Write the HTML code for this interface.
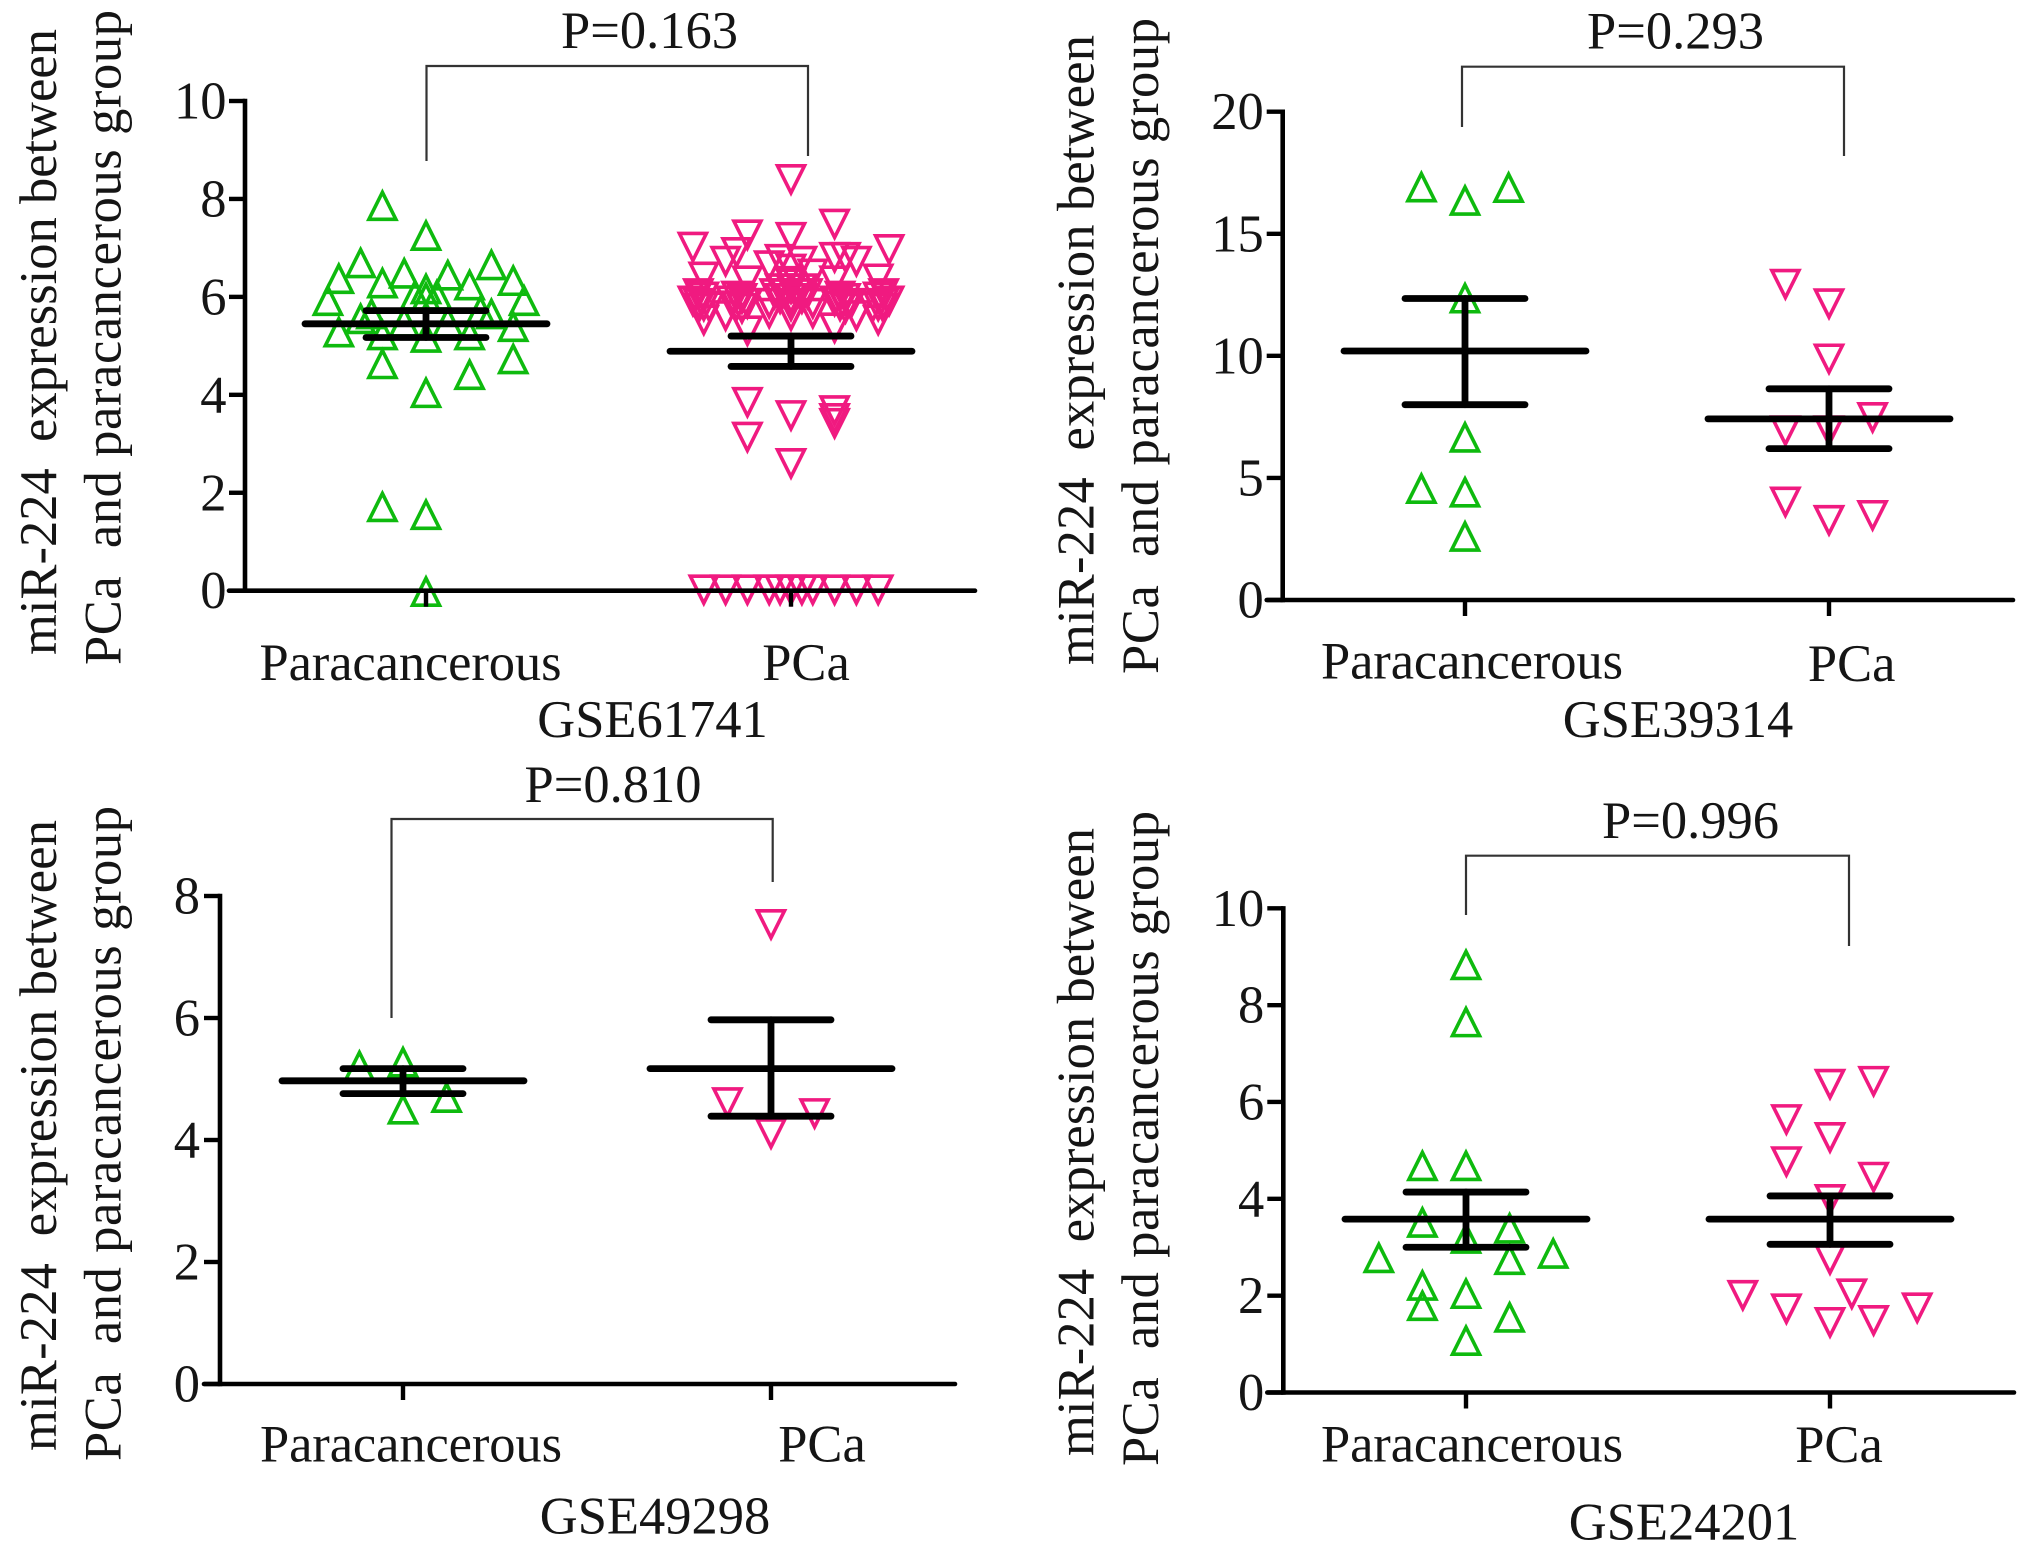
<!DOCTYPE html>
<html lang="en">
<head>
<meta charset="utf-8">
<title>miR-224 expression between PCa and paracancerous group</title>
<style>
html,body{margin:0;padding:0;background:#fff;width:2031px;height:1548px;overflow:hidden}
svg{display:block}
text{font-family:"Liberation Serif",serif;font-size:52.5px;fill:#151515;white-space:pre}
</style>
</head>
<body>
<svg id="figure" xmlns="http://www.w3.org/2000/svg" width="2031" height="1548" viewBox="0 0 2031 1548">
  <rect x="0" y="0" width="2031" height="1548" fill="#fff"/>

  <g id="panelA">
    <text transform="translate(56,655) rotate(-90)" textLength="626">miR-224  expression between</text>
    <text transform="translate(120.5,665) rotate(-90)" textLength="655">PCa  and paracancerous group</text>
    <path d="M426.5 161V66H808V156" fill="none" stroke="#333" stroke-width="2.2"/>
    <text x="649.5" y="48" text-anchor="middle">P=0.163</text>
    <text x="259.5" y="680" textLength="302">Paracancerous</text>
    <text x="806" y="680" text-anchor="middle">PCa</text>
    <text x="652.5" y="737" text-anchor="middle">GSE61741</text>
  </g>

  <g id="panelB">
    <text transform="translate(1093.5,665) rotate(-90)" textLength="630">miR-224  expression between</text>
    <text transform="translate(1158,674) rotate(-90)" textLength="656">PCa  and paracancerous group</text>
    <path d="M1462 127V66.7H1844V156" fill="none" stroke="#333" stroke-width="2.2"/>
    <text x="1675.5" y="48.5" text-anchor="middle">P=0.293</text>
    <text x="1321" y="678.5" textLength="302">Paracancerous</text>
    <text x="1851.7" y="681" text-anchor="middle">PCa</text>
    <text x="1678" y="737" text-anchor="middle">GSE39314</text>
  </g>

  <g id="panelC">
    <text transform="translate(56,1451) rotate(-90)" textLength="631">miR-224  expression between</text>
    <text transform="translate(120.5,1461) rotate(-90)" textLength="655">PCa  and paracancerous group</text>
    <path d="M391.5 1018V819H772.7V882" fill="none" stroke="#333" stroke-width="2.2"/>
    <text x="613" y="802" text-anchor="middle">P=0.810</text>
    <text x="260" y="1461.3" textLength="302">Paracancerous</text>
    <text x="822" y="1461.3" text-anchor="middle">PCa</text>
    <text x="655" y="1533.5" text-anchor="middle">GSE49298</text>
  </g>

  <g id="panelD">
    <text transform="translate(1093.5,1456) rotate(-90)" textLength="628">miR-224  expression between</text>
    <text transform="translate(1158,1466) rotate(-90)" textLength="655">PCa  and paracancerous group</text>
    <path d="M1466 915V855.7H1849V946" fill="none" stroke="#333" stroke-width="2.2"/>
    <text x="1690.5" y="838" text-anchor="middle">P=0.996</text>
    <text x="1321" y="1461.3" textLength="302">Paracancerous</text>
    <text x="1839" y="1462" text-anchor="middle">PCa</text>
    <text x="1684" y="1539.7" text-anchor="middle">GSE24201</text>
  </g>
</svg>
<script>
const categories = ['Paracancerous', 'PCa'];

// GSE61741
const aTicks = [0, 2, 4, 6, 8, 10];
const aParaValues = [7.88,7.27,6.71,6.67,6.39,6.35,6.5,6.46,6.3,6.26,6.18,6.0,6.05,6.05,5.94,5.94,5.57,5.67,5.73,5.67,5.3,5.41,5.24,5.19,5.24,5.5,5.5,4.65,4.75,4.43,4.06,1.73,1.57,0];
const aParaSwarm = [-4,0,-6,6,-8,8,-2,2,-4,4,0,0,-1,1,-9,9,-6,-5,5,6,-8,8,-4,0,4,-2,2,-4,8,4,0,-4,0,0];
const aParaStats = [5.45, 5.72, 5.17];
const aPcaValues = [8.38,7.47,7.25,7.2,7.0,6.95,6.89,6.71,6.79,6.71,6.79,6.62,6.75,6.71,6.39,6.31,6.35,6.31,6.45,6.55,6.3,
  6.25,6.15,6.15,6.15,6.05,6.05,6.05,6.05,5.95,5.95,5.95,5.85,5.85,5.8,
  6.05,5.98,5.9,5.85,5.8,5.78,5.75,
  6.05,5.98,5.9,5.85,5.8,5.78,5.75,
  6.0,5.95,5.9,5.85,5.8,5.75,
  6.0,5.95,5.9,5.85,5.8,5.75,
  5.51,5.6,5.29,5.65,5.6,5.65,5.35,5.6,5.51,
  3.83,3.56,3.66,3.5,3.4,3.12,2.58,
  0,0,0,0,0,0,0,0,0,0,0];
const aPcaSwarm = [0,4,-4,0,-9,9,-5,-6,5,6,4,-2,-1,1,-8,-4,8,4,2,0,0,
  0,-1,0,1,-1.5,-0.5,0.5,1.5,-1,0,1,-2,2,0,
  -8.5,-8,-9,-8.5,-8,-7.5,-8.5,
  8.5,8,9,8.5,8,7.5,8.5,
  -5,-4.5,-5.5,-4,-5,-4.5,
  4.5,5,4,5.5,4.5,5,
  -8,-6,-4,-2,0,2,4,6,8,
  -4,0,4,4,4,-4,0,
  -8,-6,-4,-2,-1,0,1,2,4,6,8];
const aPcaStats = [4.89, 5.2, 4.58];

// GSE39314
const bTicks = [0, 5, 10, 15, 20];
const bParaValues = [16.95,16.4,16.93,12.4,6.7,4.6,4.45,2.64];
const bParaSwarm = [-4,0,4,0,0,-4,0,0];
const bParaStats = [10.2, 12.35, 8.0];
const bPcaValues = [12.9,12.1,9.84,7.44,6.9,6.9,3.98,3.23,3.43];
const bPcaSwarm = [-4,0,0,4,-4,0,-4,0,4];
const bPcaStats = [7.42, 8.65, 6.2];

// GSE49298
const cTicks = [0, 2, 4, 6, 8];
const cParaValues = [5.23,5.29,4.71,4.52];
const cParaSwarm = [-4,0,4,0];
const cParaStats = [4.97, 5.17, 4.76];
const cPcaValues = [7.52,4.6,4.42,4.09];
const cPcaSwarm = [0,-4,4,0];
const cPcaStats = [5.17, 5.97, 4.39];

// GSE24201
const dTicks = [0, 2, 4, 6, 8, 10];
const dParaValues = [8.85,7.67,4.7,4.7,3.53,3.41,3.2,2.8,2.76,2.89,2.23,2.06,1.81,1.57,1.09];
const dParaSwarm = [0,0,-4,0,-4,4,0,-8,4,8,-4,0,-4,4,0];
const dParaStats = [3.58, 4.14, 3.0];
const dPcaValues = [6.35,6.41,5.62,5.25,4.75,4.43,3.97,2.73,1.99,2.02,1.71,1.43,1.47,1.73];
const dPcaSwarm = [0,4,-4,0,-4,4,0,0,-8,2,-4,0,4,8];
const dPcaStats = [3.58, 4.06, 3.06];

const NS = 'http://www.w3.org/2000/svg';
const GREEN = '#0eba0e';
const PINK = '#f01a80';
const SWARM_STEP = 10.9;

function svgEl(tag, attrs) {
  const el = document.createElementNS(NS, tag);
  for (const k in attrs) el.setAttribute(k, attrs[k]);
  return el;
}

function drawPoints(group, scaleY, cx, values, swarm, up, color) {
  values.forEach(function (v, i) {
    const x = cx + swarm[i] * SWARM_STEP;
    const y = scaleY(v);
    const d = up
      ? 'M' + x + ' ' + (y - 12.5) + 'L' + (x + 13.5) + ' ' + (y + 14.5) + 'L' + (x - 13.5) + ' ' + (y + 14.5) + 'Z'
      : 'M' + x + ' ' + (y + 12.5) + 'L' + (x + 13.5) + ' ' + (y - 14.5) + 'L' + (x - 13.5) + ' ' + (y - 14.5) + 'Z';
    const el = svgEl('path', { d: d, fill: 'none', stroke: color, 'stroke-width': 3.6 });
    
    
    group.appendChild(el);
  });
}

function drawStats(group, scaleY, cx, stats) {
  const mean = scaleY(stats[0]), hi = scaleY(stats[1]), lo = scaleY(stats[2]);
  const common = { stroke: '#000', 'stroke-width': 6.8, 'stroke-linecap': 'round' };
  const stem = svgEl('line', Object.assign({ x1: cx, x2: cx, y1: hi, y2: lo }, common));
  
  
  group.appendChild(stem);
  const meanLine = svgEl('line', Object.assign({ x1: cx - 121, x2: cx + 121, y1: mean, y2: mean }, common));
  
  
  group.appendChild(meanLine);
  [hi, lo].forEach(function (y) {
    const cap = svgEl('line', Object.assign({ x1: cx - 60, x2: cx + 60, y1: y, y2: y }, common));
    
    
    group.appendChild(cap);
  });
}

function drawPanel(id, opt) {
  const group = document.getElementById(id);
  const maxTick = opt.ticks[opt.ticks.length - 1];
  const scaleY = function (v) { return opt.y0 - (v / maxTick) * (opt.y0 - opt.yTop); };

  drawPoints(group, scaleY, opt.cx[0], opt.paraValues, opt.paraSwarm, true, GREEN);
  drawPoints(group, scaleY, opt.cx[1], opt.pcaValues, opt.pcaSwarm, false, PINK);

  const yAxis = svgEl('line', { x1: opt.axisX, x2: opt.axisX, y1: opt.yTop - 2.2, y2: opt.y0 + 2.2, stroke: '#000', 'stroke-width': 4.6 });
  
  
  group.appendChild(yAxis);
  const xAxis = svgEl('line', { x1: opt.axisX - 16, x2: opt.axisEnd, y1: opt.y0, y2: opt.y0, stroke: '#000', 'stroke-width': 4.6, 'stroke-linecap': 'round' });
  
  
  group.appendChild(xAxis);

  opt.ticks.forEach(function (t) {
    const y = scaleY(t);
    const tick = svgEl('line', { x1: opt.axisX - 16, x2: opt.axisX, y1: y, y2: y, stroke: '#000', 'stroke-width': 4.4 });
    
    
    group.appendChild(tick);
    const label = svgEl('text', { x: opt.axisX - opt.labelGap, y: y + 17.5, 'text-anchor': 'end' });
    
    
    label.textContent = String(t);
    group.appendChild(label);
  });

  opt.cx.forEach(function (x) {
    const tick = svgEl('line', { x1: x, x2: x, y1: opt.y0, y2: opt.y0 + 16, stroke: '#000', 'stroke-width': 4.4 });
    
    
    group.appendChild(tick);
  });

  drawStats(group, scaleY, opt.cx[0], opt.paraStats);
  drawStats(group, scaleY, opt.cx[1], opt.pcaStats);
}

drawPanel('panelA', { ticks: aTicks, y0: 590.7, yTop: 101, axisX: 245, axisEnd: 975, labelGap: 18.5, cx: [426, 791],
  paraValues: aParaValues, paraSwarm: aParaSwarm, paraStats: aParaStats,
  pcaValues: aPcaValues, pcaSwarm: aPcaSwarm, pcaStats: aPcaStats });
drawPanel('panelB', { ticks: bTicks, y0: 600, yTop: 111.7, axisX: 1282.7, axisEnd: 2013, labelGap: 19, cx: [1465, 1829],
  paraValues: bParaValues, paraSwarm: bParaSwarm, paraStats: bParaStats,
  pcaValues: bPcaValues, pcaSwarm: bPcaSwarm, pcaStats: bPcaStats });
drawPanel('panelC', { ticks: cTicks, y0: 1384, yTop: 896, axisX: 220, axisEnd: 955, labelGap: 20, cx: [403, 771],
  paraValues: cParaValues, paraSwarm: cParaSwarm, paraStats: cParaStats,
  pcaValues: cPcaValues, pcaSwarm: cPcaSwarm, pcaStats: cPcaStats });
drawPanel('panelD', { ticks: dTicks, y0: 1392.5, yTop: 908.3, axisX: 1283.3, axisEnd: 2014, labelGap: 19, cx: [1466, 1830],
  paraValues: dParaValues, paraSwarm: dParaSwarm, paraStats: dParaStats,
  pcaValues: dPcaValues, pcaSwarm: dPcaSwarm, pcaStats: dPcaStats });
</script>
</body>
</html>
